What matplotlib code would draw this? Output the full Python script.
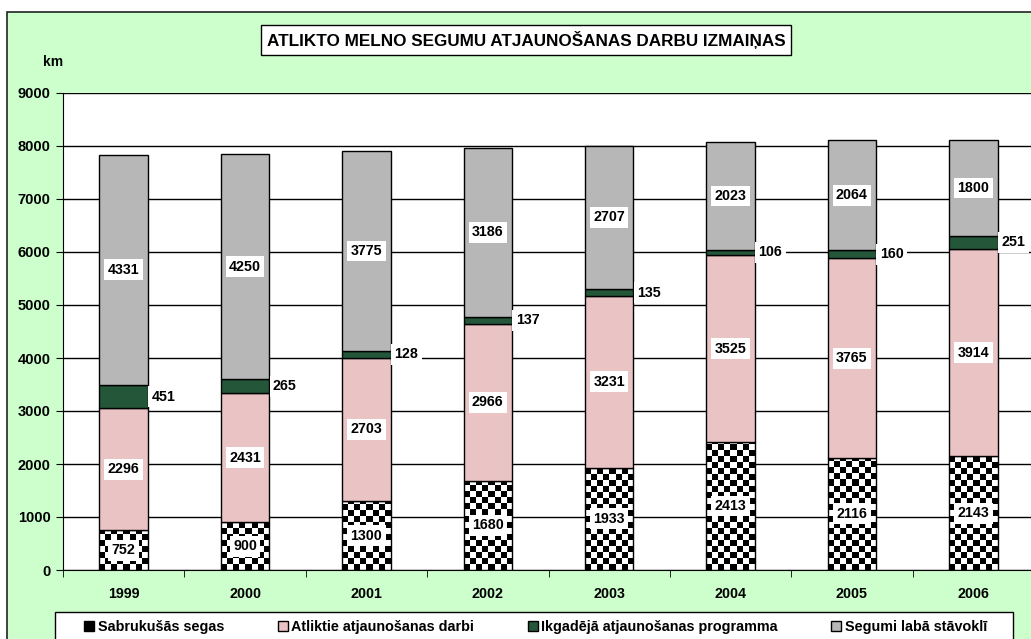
import numpy as np
import matplotlib
matplotlib.use('Agg')
import matplotlib.pyplot as plt
from matplotlib.patches import Rectangle, Patch

plt.rcParams['font.family'] = ['Liberation Sans', 'DejaVu Sans']
plt.rcParams['font.weight'] = 'bold'

years = ['1999', '2000', '2001', '2002', '2003', '2004', '2005', '2006']
sabrukusas = [752, 900, 1300, 1680, 1933, 2413, 2116, 2143]
atliktie = [2296, 2431, 2703, 2966, 3231, 3525, 3765, 3914]
ikgadeja = [451, 265, 128, 137, 135, 106, 160, 251]
labie = [4331, 4250, 3775, 3186, 2707, 2023, 2064, 1800]

series_names = ['Sabrukušās segas', 'Atliktie atjaunošanas darbi',
                'Ikgadējā atjaunošanas programma', 'Segumi labā stāvoklī']
title = 'ATLIKTO MELNO SEGUMU ATJAUNOŠANAS DARBU IZMAIŅAS'

PINK = '#EAC4C4'
GREEN = '#24573A'
GREY = '#B7B7B7'


def checker_fill(ax, rect, square=113):
    # fill a bar with a black/white checkerboard, clipped to the bar
    x0, w, h = rect.get_x(), rect.get_width(), rect.get_height()
    rows = int(np.ceil(h / square))
    cols = 8
    grid = (np.add.outer(np.arange(rows), np.arange(cols)) % 2).astype(float)
    im = ax.imshow(grid, cmap='gray', extent=(x0, x0 + w, 0, rows * square),
                   origin='lower', aspect='auto', interpolation='nearest', zorder=2.5)
    im.set_clip_path(rect)


def label(ax, x, y, txt, ha='center'):
    ax.text(x, y, txt, ha=ha, va='center', fontsize=10.3, fontweight='bold', zorder=5,
            bbox=dict(facecolor='white', edgecolor='none', pad=2.5))


def main():
    fig = plt.figure(figsize=(10.31, 6.39), dpi=100)
    W, H = 1031, 639

    # green chart area
    fig.patches.append(Rectangle((7 / W, -0.1), 1.2, 1 - 12 / H + 0.1, transform=fig.transFigure,
                                 facecolor='#CCFFCC', edgecolor='#222222', lw=1.2, zorder=-5))
    # legend frame
    fig.patches.append(Rectangle((55 / W, -0.1), (1013 - 55) / W, 0.1 + (H - 612) / H,
                                 transform=fig.transFigure, facecolor='white',
                                 edgecolor='black', lw=1, zorder=-4))

    ax = fig.add_axes([63 / W, (H - 570) / H, (1034 - 63) / W, (570 - 93) / H])
    x = np.arange(len(years))
    bw = 0.4

    b1 = np.array(sabrukusas)
    b2 = b1 + np.array(atliktie)
    b3 = b2 + np.array(ikgadeja)

    bars1 = ax.bar(x, sabrukusas, bw, facecolor='none', edgecolor='black', lw=1, zorder=3)
    ax.bar(x, atliktie, bw, bottom=b1, color=PINK, edgecolor='black', lw=1, zorder=3)
    ax.bar(x, ikgadeja, bw, bottom=b2, color=GREEN, edgecolor='black', lw=1, zorder=3)
    ax.bar(x, labie, bw, bottom=b3, color=GREY, edgecolor='black', lw=1, zorder=3)

    for rect in bars1:
        checker_fill(ax, rect)

    for i in range(len(years)):
        label(ax, x[i], sabrukusas[i] / 2, str(sabrukusas[i]))
        label(ax, x[i], b1[i] + atliktie[i] / 2, str(atliktie[i]))
        label(ax, x[i] + bw / 2 + 0.03, b2[i] + ikgadeja[i] / 2, str(ikgadeja[i]), ha='left')
        label(ax, x[i], b3[i] + labie[i] / 2, str(labie[i]))

    ax.set_xlim(-0.5, len(years) - 0.5)
    ax.set_ylim(0, 9000)
    ax.set_yticks(range(0, 9001, 1000))
    ax.set_xticks(x)
    ax.set_xticklabels(years, fontsize=10.3, fontweight='bold')
    ax.set_xticks(np.arange(-0.5, len(years), 1), minor=True)
    ax.tick_params(axis='x', which='major', length=0, pad=12)
    ax.tick_params(axis='x', which='minor', length=5, direction='out', color='black')
    ax.tick_params(axis='y', length=5, direction='out', labelsize=10.5, pad=4)
    for t in ax.get_yticklabels():
        t.set_fontweight('bold')

    ax.grid(axis='y', color='black', lw=1)
    ax.set_axisbelow(True)
    ax.set_facecolor('white')
    for s in ['top', 'right']:
        ax.spines[s].set_visible(False)
    ax.spines['left'].set_color('black')
    ax.spines['bottom'].set_color('black')

    fig.text(53 / W, 1 - 62 / H, 'km', fontsize=10, fontweight='bold', ha='center', va='center')
    fig.text(526 / W, 1 - 40 / H, title, fontsize=12.3, fontweight='bold', ha='center', va='center',
             bbox=dict(facecolor='white', edgecolor='black', lw=1, pad=4))

    handles = [Patch(facecolor='black', edgecolor='black', hatch='++'),
               Patch(facecolor=PINK, edgecolor='black'),
               Patch(facecolor=GREEN, edgecolor='black'),
               Patch(facecolor=GREY, edgecolor='black')]
    fig.legend(handles, series_names, loc='center left', ncol=4,
               bbox_to_anchor=(84 / W, 1 - 627 / H), frameon=False,
               prop=dict(size=10.4, weight='bold'),
               handlelength=0.7, handleheight=0.7, handletextpad=0.25,
               columnspacing=3.7, borderpad=0, borderaxespad=0)

    fig.savefig('out.png', dpi=100, facecolor='white')


main()
